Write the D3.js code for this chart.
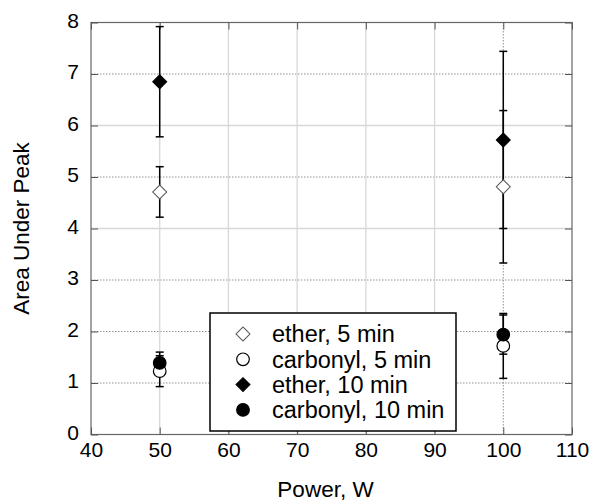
<!DOCTYPE html>
<html>
<head>
<meta charset="utf-8">
<script src="https://cdn.jsdelivr.net/npm/d3@7"></script>
<style>
  body { margin: 0; background: #fff; }
  text { font-family: Arial, "Liberation Sans", sans-serif; fill: #000; }
</style>
</head>
<body>
<svg id="chart" width="595" height="504"></svg>
<script>
// values
const powers = [50, 100];
const ether5 = [4.71, 4.81];
const ether5Err = [0.49, 1.48];
const carbonyl5 = [1.23, 1.72];
const carbonyl5Err = [0.30, 0.63];
const ether10 = [6.85, 5.72];
const ether10Err = [1.07, 1.72];
const carbonyl10 = [1.39, 1.94];
const carbonyl10Err = [0.21, 0.38];

const xTicks = [40, 50, 60, 70, 80, 90, 100, 110];
const yTicks = [0, 1, 2, 3, 4, 5, 6, 7, 8];

const series = [
  { name: 'ether, 5 min', shape: 'diamond', filled: false, y: ether5, err: ether5Err },
  { name: 'carbonyl, 5 min', shape: 'circle', filled: false, y: carbonyl5, err: carbonyl5Err },
  { name: 'ether, 10 min', shape: 'diamond', filled: true, y: ether10, err: ether10Err },
  { name: 'carbonyl, 10 min', shape: 'circle', filled: true, y: carbonyl10, err: carbonyl10Err }
];

const margin = { left: 91, right: 23, top: 22.5, bottom: 69.5 };
const width = 595, height = 504;
const svg = d3.select('#chart');

const x = d3.scaleLinear().domain([40, 110]).range([margin.left, width - margin.right]);
const y = d3.scaleLinear().domain([0, 8]).range([height - margin.bottom, margin.top]);

// grid lines (some dotted, some light solid, as in the original)
const grid = svg.append('g');
grid.selectAll('line.hg')
  .data(yTicks.filter(d => d > 0 && d < 8))
  .enter().append('line')
  .attr('x1', x(40)).attr('x2', x(110))
  .attr('y1', d => y(d)).attr('y2', d => y(d))
  .attr('stroke', d => (d === 4 || d === 6) ? '#d8d8d8' : '#777')
  .attr('stroke-width', d => (d === 4 || d === 6) ? 1.3 : 0.8)
  .attr('stroke-dasharray', d => (d === 4 || d === 6) ? null : '1.5,1.5');

grid.selectAll('line.vg')
  .data(xTicks.filter(d => d > 40 && d < 110))
  .enter().append('line')
  .attr('y1', y(0)).attr('y2', y(8))
  .attr('x1', d => x(d)).attr('x2', d => x(d))
  .attr('stroke', d => d === 100 ? '#777' : '#d8d8d8')
  .attr('stroke-width', d => d === 100 ? 0.8 : 1.3)
  .attr('stroke-dasharray', d => d === 100 ? '1.5,1.5' : null);

// frame
svg.append('rect')
  .attr('x', x(40)).attr('y', y(8))
  .attr('width', x(110) - x(40)).attr('height', y(0) - y(8))
  .attr('fill', 'none').attr('stroke', '#666').attr('stroke-width', 1.2);

// axes with inward ticks
const tickLen = 7;
const axisLeft = d3.axisLeft(y).tickValues(yTicks).tickSize(-tickLen);
const axisBottom = d3.axisBottom(x).tickValues(xTicks).tickSize(-tickLen);

const gy = svg.append('g').attr('transform', `translate(${x(40)},0)`).call(axisLeft);
const gx = svg.append('g').attr('transform', `translate(0,${y(0)})`).call(axisBottom);
svg.append('g').attr('transform', `translate(${x(110)},0)`)
  .call(d3.axisRight(y).tickValues(yTicks).tickSize(-tickLen).tickFormat(''));
svg.append('g').attr('transform', `translate(0,${y(8)})`)
  .call(d3.axisTop(x).tickValues(xTicks).tickSize(-tickLen).tickFormat(''));

svg.selectAll('.domain').remove();
svg.selectAll('.tick line').attr('stroke', '#555').attr('stroke-width', 1);

gy.selectAll('text')
  .attr('x', 79 - x(40))
  .attr('dy', '0.22em')
  .style('font-size', '21px');
gx.selectAll('text')
  .attr('dy', '0.71em')
  .attr('y', 8)
  .style('font-size', '21px');

// axis titles
svg.append('text')
  .attr('x', (x(40) + x(110)) / 2 - 6)
  .attr('y', 497)
  .attr('text-anchor', 'middle')
  .style('font-size', '22.5px')
  .text('Power, W');

svg.append('text')
  .attr('transform', `translate(29,${(y(0) + y(8)) / 2}) rotate(-90)`)
  .attr('text-anchor', 'middle')
  .style('font-size', '22.5px')
  .text('Area Under Peak');

function drawMarker(g, s, cx, cy) {
  if (s.shape === 'diamond') {
    g.append('path')
      .attr('d', d3.symbol().type(d3.symbolSquare).size(98)())
      .attr('transform', `translate(${cx},${cy}) rotate(45)`)
      .attr('fill', s.filled ? '#000' : '#fff')
      .attr('stroke', s.filled ? '#000' : '#555')
      .attr('stroke-width', 1);
  } else {
    g.append('circle')
      .attr('cx', cx).attr('cy', cy).attr('r', 6.3)
      .attr('fill', s.filled ? '#000' : '#fff')
      .attr('stroke', '#000')
      .attr('stroke-width', 1.2);
  }
}

// error bars first, then markers
const marks = svg.append('g');
series.forEach(s => {
  powers.forEach((p, i) => {
    const top = y(s.y[i] + s.err[i]);
    const bot = y(s.y[i] - s.err[i]);
    marks.append('line')
      .attr('x1', x(p)).attr('x2', x(p))
      .attr('y1', top).attr('y2', bot)
      .attr('stroke', '#000').attr('stroke-width', 1.5);
    [top, bot].forEach(v => {
      marks.append('line')
        .attr('x1', x(p) - 4).attr('x2', x(p) + 4)
        .attr('y1', v).attr('y2', v)
        .attr('stroke', '#000').attr('stroke-width', 1.5);
    });
  });
});
series.forEach(s => {
  powers.forEach((p, i) => drawMarker(marks, s, x(p), y(s.y[i])));
});

// legend
const legend = svg.append('g');
legend.append('rect')
  .attr('x', 210).attr('y', 313)
  .attr('width', 246).attr('height', 118)
  .attr('fill', '#fff').attr('stroke', '#000').attr('stroke-width', 1.5);
series.forEach((s, i) => {
  const ly = 334 + i * 25.3;
  drawMarker(legend, s, 243, ly);
  legend.append('text')
    .attr('x', 272).attr('y', ly)
    .attr('dy', '0.35em')
    .style('font-size', '23.5px')
    .text(s.name);
});
</script>
</body>
</html>
